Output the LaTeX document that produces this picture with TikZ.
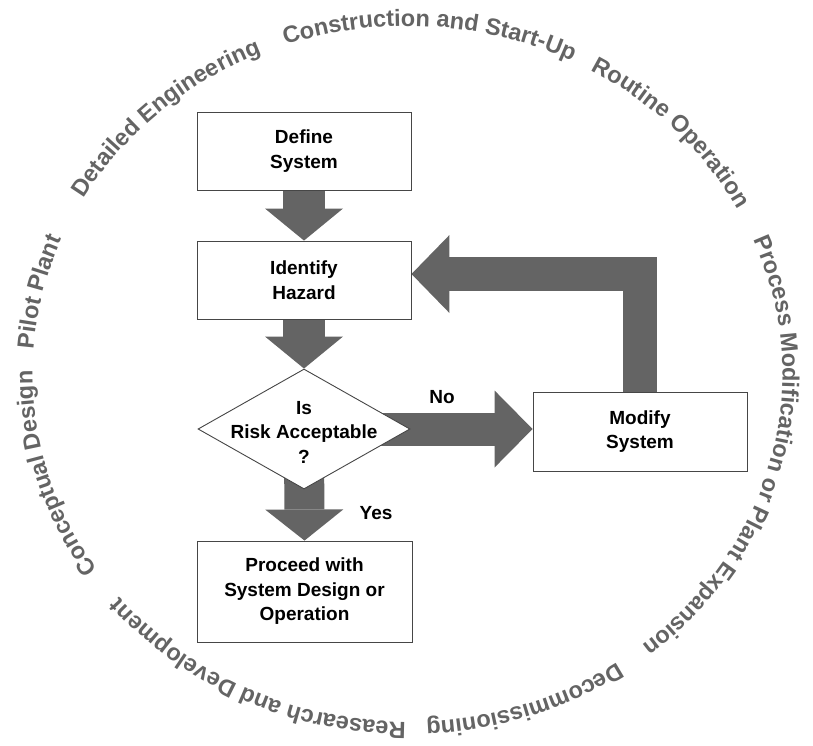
\documentclass[tikz,border=0pt]{standalone}
\usepackage{fontspec}
\setmainfont{Liberation Sans}
\usetikzlibrary{shapes.geometric,decorations.text,arrows.meta,calc,backgrounds}
\definecolor{ringgray}{RGB}{100,100,100}
\definecolor{arrowgray}{RGB}{100,100,100}
\definecolor{boxline}{RGB}{70,70,70}
\newcommand\ringstyle{\fontsize{23.5}{26}\selectfont\bfseries\color{ringgray}}
\begin{document}
\begin{tikzpicture}[x=1pt,y=-1pt,
  box/.style={draw=boxline, line width=0.9pt, fill=white, minimum width=214pt,
    align=center, font=\fontsize{19}{24.5}\selectfont\bfseries, inner sep=0pt},
  lbl/.style={font=\fontsize{19}{24.5}\selectfont\bfseries, align=center, inner sep=0pt},
  bigarrow/.style={draw=arrowgray},
  ringtext/.style={decorate, decoration={text along path, text align=center, text={|\ringstyle|#1}}}
]
\useasboundingbox (0,0) rectangle (813,745);
\coordinate (C) at (407.5,374);

% flowchart nodes
\node[box, minimum height=78pt] (def) at (304,151) {Define\\System};
\node[box, minimum height=78pt] (haz) at (304,280) {Identify\\Hazard};
\node[diamond, draw=boxline, line width=0.9pt, fill=white, minimum width=212pt,
      minimum height=120pt, inner sep=0pt] (dia) at (304,429) {};
\node[lbl] (diatext) at (304,432) {Is\\Risk Acceptable\\?};
\node[box, minimum width=215pt, minimum height=101pt] (pro) at (304.5,591.5) {Proceed with\\System Design or\\Operation};
\node[box, minimum height=79pt] (mod) at (640,431.5) {Modify\\System};
\node[lbl] (nolbl) at (442,397) {No};
\node[lbl] (yeslbl) at (376,513) {Yes};

% arrows behind the nodes
\begin{scope}[on background layer]
\draw[bigarrow, line width=42pt, -{Triangle[width=78pt,length=32pt,line width=0pt]}] (def.south) -- (haz.north);
\draw[bigarrow, line width=42pt, -{Triangle[width=78pt,length=32pt,line width=0pt]}] (haz.south) -- (dia.north);
\draw[bigarrow, line width=40pt, -{Triangle[width=78pt,length=31pt,line width=0pt]}] (dia.center) -- (pro.north);
\draw[bigarrow, line width=33pt, -{Triangle[width=77pt,length=38pt,line width=0pt]}] (dia.center) -- (dia.center -| mod.west);
\draw[bigarrow, line width=34pt, line join=miter, -{Triangle[width=78pt,length=38pt,line width=0pt]}] (mod.north) |- ([yshift=6pt]haz.east);
\end{scope}

% ring of life-cycle stages
\path[ringtext={Construction and Start-Up}] (C) ++(228.6:375 and 348) arc[start angle=228.6, end angle=318.6, x radius=375, y radius=348];
\path[ringtext={Routine Operation}] (C) ++(271.4:375 and 348) arc[start angle=271.4, end angle=361.4, x radius=375, y radius=348];
\path[ringtext={Process Modification or Plant Expansion}] (C) ++(-41:375 and 348) arc[start angle=-41, end angle=69, x radius=375, y radius=348];
\path[ringtext={Decommissioning}] (C) ++(26:375 and 348) arc[start angle=26, end angle=116, x radius=375, y radius=348];
\path[ringtext={Reasearch and Development}] (C) ++(70.7:375 and 348) arc[start angle=70.7, end angle=160.7, x radius=375, y radius=348];
\path[ringtext={Conceptual Design}] (C) ++(118.7:375 and 348) arc[start angle=118.7, end angle=208.7, x radius=375, y radius=348];
\path[ringtext={Pilot Plant}] (C) ++(148:375 and 348) arc[start angle=148, end angle=238, x radius=375, y radius=348];
\path[ringtext={Detailed Engineering}] (C) ++(182.8:375 and 348) arc[start angle=182.8, end angle=272.8, x radius=375, y radius=348];
\end{tikzpicture}
\end{document}
